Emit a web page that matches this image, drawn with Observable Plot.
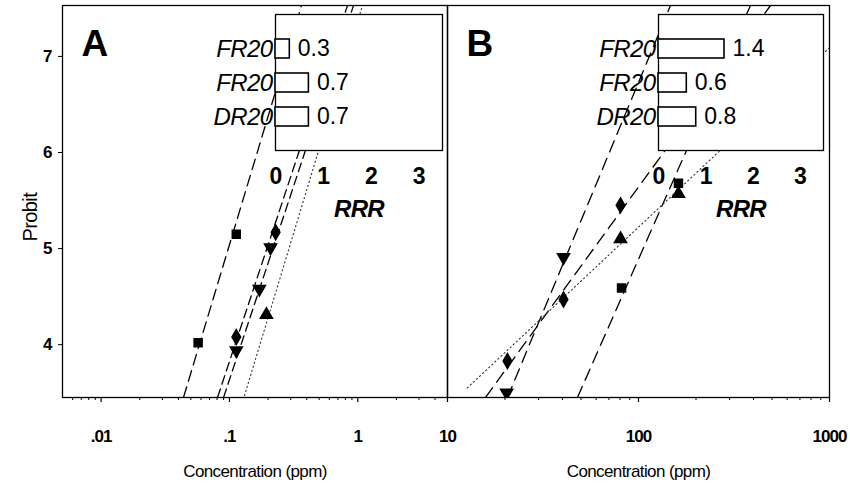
<!DOCTYPE html>
<html><head><meta charset="utf-8">
<script src="https://cdn.jsdelivr.net/npm/d3@7"></script>
<script src="https://cdn.jsdelivr.net/npm/@observablehq/plot@0.6"></script>
<style>
html,body{margin:0;padding:0;background:#fff;}
#wrap{position:relative;width:850px;height:493px;overflow:hidden;background:#fff;}
#wrap svg{position:absolute;top:0;background:transparent !important;overflow:visible;}
#wrap [aria-label="x-axis tick label"] text{letter-spacing:-1px;}
#wrap .cond{letter-spacing:-0.6px;}
</style></head><body><div id="wrap"></div>
<script>
// ---------- data ----------
const yTicks = [4, 5, 6, 7];
const aMajor = [0.01, 0.1, 1];
const aMajorLabels = [".01", ".1", "1"];
const aMinor = [0.006, 0.007, 0.008, 0.009, 0.02, 0.03, 0.04, 0.05, 0.06, 0.07, 0.08, 0.09, 0.2, 0.3, 0.4, 0.5, 0.6, 0.7, 0.8, 0.9, 2, 3, 4];
const bMajor = [10, 100, 1000];
const bMajorLabels = ["10", "100", "1000"];
const bMinor = [20, 30, 40, 50, 60, 70, 80, 90, 200, 300, 400, 500, 600, 700, 800, 900];

// panel A points (concentration ppm, probit)
const aSquareX = [0.057, 0.113], aSquareY = [4.02, 5.15];
const aDiamondX = [0.113, 0.229], aDiamondY = [4.08, 5.17];
const aDownX = [0.113, 0.171, 0.209], aDownY = [3.94, 4.58, 5.01];
const aUpX = [0.194], aUpY = [4.31];
// panel A fitted lines (end points)
const aLine1X = [0.0438, 0.364], aLine1Y = [3.45, 7.53];
const aLine2X = [0.0807, 0.831], aLine2Y = [3.45, 7.53];
const aLine3X = [0.0899, 0.926], aLine3Y = [3.45, 7.53];
const aLine4X = [0.131, 1.088], aLine4Y = [3.47, 7.53];

// panel B points
const bDiamondX = [20.6, 40.5, 80.5], bDiamondY = [3.83, 4.47, 5.45];
const bDownX = [20.4, 40.5], bDownY = [3.50, 4.91];
const bSquareX = [81.5, 161.9], bSquareY = [4.59, 5.68];
const bUpX = [80.5, 161.9], bUpY = [5.10, 5.57];
// panel B fitted lines
const bLine1X = [20.6, 147.1], bLine1Y = [3.45, 7.53];
const bLine2X = [15.8, 491], bLine2Y = [3.45, 7.53];
const bLine3X = [47.9, 385.7], bLine3Y = [3.45, 7.53];
const bLine4X = [12.7, 1000], bLine4Y = [3.55, 7.09];

// insets
const insetCats = ["FR20", "FR20", "DR20"];
const insetA = [0.3, 0.7, 0.7];
const insetALabels = ["0.3", "0.7", "0.7"];
const insetB = [1.4, 0.6, 0.8];
const insetBLabels = ["1.4", "0.6", "0.8"];
const insetTicks = [0, 1, 2, 3];

// ---------- helpers ----------
const FONT = "'Liberation Sans', Arial, Helvetica, sans-serif";
const zip = (xs, ys) => xs.map((x, i) => ({x, y: ys[i]}));
const wrap = document.getElementById("wrap");
function place(svg, left) { svg.style.left = left + "px"; wrap.appendChild(svg); }

const dash = {long: "11,6", mid: "9,5", b: "12,7", dot: "1.2,3"};

function lineMark(xs, ys, dasharray, opts = {}) {
  return Plot.line(zip(xs, ys), {x: "x", y: "y", stroke: opts.stroke || "black",
    strokeWidth: opts.sw || 1.3, strokeDasharray: dasharray, clip: true});
}
function dotMark(xs, ys, symbol, rotate = 0) {
  return Plot.dot(zip(xs, ys), {x: "x", y: "y", symbol, r: 4.5, fill: "black", stroke: "black", rotate, clip: true});
}

function panel({width, mL, mR, domain, major, majorLabels, minor, letter, marks, yAxis}) {
  const lab = new Map(major.map((d, i) => [d, majorLabels[i]]));
  return Plot.plot({
    width, height: 493, marginLeft: mL, marginRight: mR, marginTop: 5, marginBottom: 96,
    x: {type: "log", domain},
    y: {domain: [3.45, 7.53], axis: null},
    style: {fontFamily: FONT, background: "transparent", overflow: "visible"},
    marks: [
      ...marks,
      Plot.frame({stroke: "black", strokeWidth: 1.3}),
      Plot.axisX({ticks: minor, tickSize: 3, tickFormat: () => "", label: null, strokeWidth: 1}),
      Plot.axisX({ticks: major, tickSize: 5, tickPadding: 27, tickFormat: d => lab.get(d),
        fontSize: 17, fontWeight: "bold", label: null, strokeWidth: 1.2}),
      ...(yAxis ? [
        Plot.axisY({ticks: yTicks, tickSize: 4, tickPadding: 6, tickFormat: d => String(d), fontSize: 17, fontWeight: "bold", label: null}),
        Plot.text(["Probit"], {frameAnchor: "left", dx: -32, dy: 40, rotate: -90, fontSize: 20, text: d => d, className: "cond"})
      ] : []),
      Plot.text(["Concentration (ppm)"], {frameAnchor: "bottom", dy: 79, fontSize: 17, text: d => d, className: "cond"}),
      Plot.text([letter], {frameAnchor: "top-left", dx: 19, dy: 39, fontSize: 37, fontWeight: "bold", textAnchor: "start", lineAnchor: "middle", text: d => d})
    ]
  });
}

function inset(values, labels, mR) {
  const rows = values.map((v, i) => ({i, v, label: labels[i]}));
  return Plot.plot({
    width: 250, height: 225, marginLeft: 75, marginRight: mR, marginTop: 14, marginBottom: 75,
    x: {domain: [0, 3.5], axis: null},
    y: {type: "band", domain: [0, 1, 2], range: [31.3, 134.2], paddingInner: 0.43, paddingOuter: 0.215, axis: null},
    style: {fontFamily: FONT, background: "transparent", overflow: "visible"},
    marks: [
      Plot.frame({fill: "white", stroke: "black", strokeWidth: 1.3}),
      Plot.barX(rows, {x: "v", y: "i", fill: "white", stroke: "black", strokeWidth: 1.6}),
      Plot.text(rows, {x: "v", y: "i", text: "label", dx: 8, textAnchor: "start", fontSize: 23}),
      Plot.axisY({tickSize: 0, tickPadding: 3, tickFormat: i => insetCats[i], fontSize: 24, fontStyle: "italic", label: null, className: "cond"}),
      Plot.axisX({ticks: insetTicks, tickSize: 0, tickPadding: 17, tickFormat: d => String(d), fontSize: 23, fontWeight: "bold", label: null}),
      Plot.text(["RRR"], {frameAnchor: "bottom", dy: 66, fontSize: 24, fontStyle: "italic", fontWeight: "bold", text: d => d, className: "cond"})
    ]
  });
}

// ---------- panel A ----------
const pA = panel({
  width: 460, mL: 62, mR: 13, domain: [0.005, 5], major: aMajor, majorLabels: aMajorLabels, minor: aMinor,
  letter: "A", yAxis: true,
  marks: [
    lineMark(aLine1X, aLine1Y, dash.long),
    lineMark(aLine2X, aLine2Y, dash.mid),
    lineMark(aLine3X, aLine3Y, dash.mid),
    lineMark(aLine4X, aLine4Y, dash.dot, {stroke: "#333", sw: 1.1}),
    dotMark(aSquareX, aSquareY, "square"),
    dotMark(aDiamondX, aDiamondY, "diamond"),
    dotMark(aDownX, aDownY, "triangle", 180),
    dotMark(aUpX, aUpY, "triangle")
  ]
});
place(pA, 0);

// ---------- panel B ----------
const pB = panel({
  width: 413, mL: 10, mR: 21, domain: [10, 1000], major: bMajor, majorLabels: bMajorLabels, minor: bMinor,
  letter: "B", yAxis: false,
  marks: [
    lineMark(bLine1X, bLine1Y, dash.b),
    lineMark(bLine2X, bLine2Y, dash.b),
    lineMark(bLine3X, bLine3Y, dash.b),
    lineMark(bLine4X, bLine4Y, dash.dot, {stroke: "#333", sw: 1.1}),
    dotMark(bDiamondX, bDiamondY, "diamond"),
    dotMark(bDownX, bDownY, "triangle", 180),
    dotMark(bSquareX, bSquareY, "square"),
    dotMark(bUpX, bUpY, "triangle")
  ]
});
place(pB, 437);

place(inset(insetA, insetALabels, 8), 200);
place(inset(insetB, insetBLabels, 10), 583);
</script></body></html>
